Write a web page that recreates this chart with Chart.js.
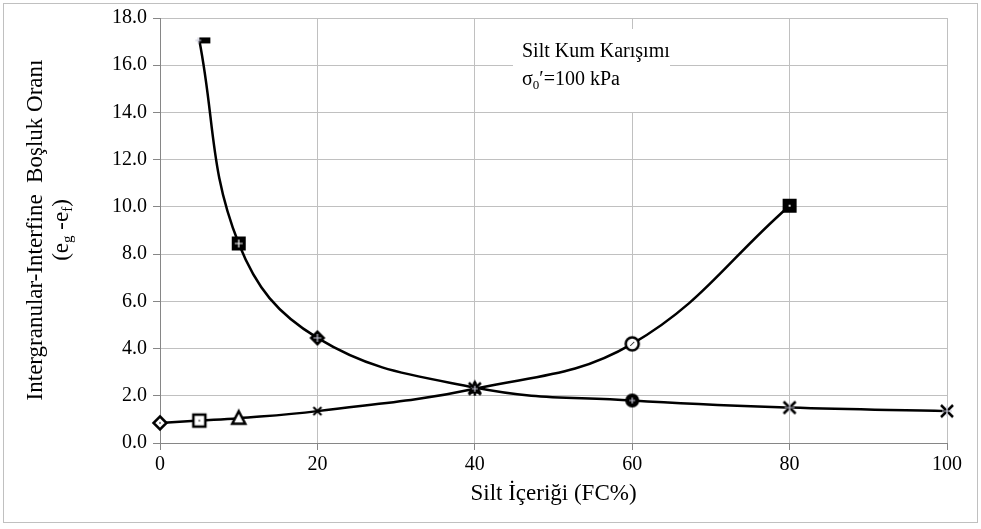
<!DOCTYPE html>
<html>
<head>
<meta charset="utf-8">
<script src="https://cdn.jsdelivr.net/npm/chart.js@4/dist/chart.umd.min.js"></script>
<style>
html,body{margin:0;padding:0;background:#fff;}
#wrap{width:981px;height:529px;position:relative;}
</style>
</head>
<body>
<div id="wrap"><canvas id="c" width="981" height="529"></canvas></div>
<script>
// ---- data ----
const fcDecreasing = [5, 10, 20, 40, 60, 80, 100];
const ratioDecreasing = [17.05, 8.45, 4.45, 2.35, 1.80, 1.50, 1.35];
const fcIncreasing = [0, 5, 10, 20, 40, 60, 80];
const ratioIncreasing = [0.85, 0.95, 1.05, 1.35, 2.30, 4.20, 10.05];
const xTicks = [0, 20, 40, 60, 80, 100];
const yTicks = [0, 2, 4, 6, 8, 10, 12, 14, 16, 18];
const xTitle = 'Silt İçeriği (FC%)';
const yTitleLine1 = 'Intergranular-Interfine  Boşluk Oranı';
const boxLine1 = 'Silt Kum Karışımı';

const FONT = '"Liberation Serif", "Times New Roman", serif';

// ---- marker factory ----
function mk(draw, w, h) {
  const c = document.createElement('canvas');
  c.width = w || 20; c.height = h || 20;
  const g = c.getContext('2d');
  g.lineWidth = 2; g.strokeStyle = '#000'; g.fillStyle = '#000';
  draw(g, c.width / 2, c.height / 2);
  return c;
}
function plus(g, x, y, s, col) {
  g.save(); g.strokeStyle = col || '#c8c8d8'; g.lineWidth = 1.2;
  g.beginPath(); g.moveTo(x - s, y); g.lineTo(x + s, y); g.moveTo(x, y - s); g.lineTo(x, y + s); g.stroke(); g.restore();
}
const m = {
  dashRect: mk((g, x, y) => { g.fillRect(x, y - 3, 11, 6); plus(g, x - 1, y, 3); }, 26, 12),
  sqFillPlus: mk((g, x, y) => { g.fillRect(x - 7, y - 7, 14, 14); plus(g, x, y, 4, '#fff'); }),
  diaFill: mk((g, x, y) => { g.beginPath(); g.moveTo(x, y - 8); g.lineTo(x + 8, y); g.lineTo(x, y + 8); g.lineTo(x - 8, y); g.closePath(); g.fill(); plus(g, x, y, 4); }),
  triFill: mk((g, x, y) => { g.beginPath(); g.moveTo(x, y - 8); g.lineTo(x + 7, y + 6); g.lineTo(x - 7, y + 6); g.closePath(); g.fill(); plus(g, x, y, 4); }),
  cirFill: mk((g, x, y) => { g.beginPath(); g.arc(x, y, 7, 0, Math.PI * 2); g.fill(); plus(g, x, y, 3); }),
  xBig: mk((g, x, y) => { g.lineWidth = 2.5; g.beginPath(); g.moveTo(x - 6, y - 6); g.lineTo(x + 6, y + 6); g.moveTo(x + 6, y - 6); g.lineTo(x - 6, y + 6); g.stroke(); plus(g, x, y, 5); }),
  diaOpen: mk((g, x, y) => { g.lineWidth = 2.5; g.fillStyle = '#fff'; g.beginPath(); g.moveTo(x, y - 6.5); g.lineTo(x + 6.5, y); g.lineTo(x, y + 6.5); g.lineTo(x - 6.5, y); g.closePath(); g.fill(); g.stroke(); g.fillStyle = '#888'; g.fillRect(x - 1, y - 1, 2, 2); }),
  sqOpen: mk((g, x, y) => { g.lineWidth = 2.5; g.fillStyle = '#fff'; g.fillRect(x - 6, y - 6, 12, 12); g.strokeRect(x - 6, y - 6, 12, 12); g.fillStyle = '#888'; g.fillRect(x - 1, y - 1, 2, 2); }),
  triOpen: mk((g, x, y) => { g.lineWidth = 2.5; g.fillStyle = '#fff'; g.beginPath(); g.moveTo(x, y - 7); g.lineTo(x + 6.5, y + 5.5); g.lineTo(x - 6.5, y + 5.5); g.closePath(); g.fill(); g.stroke(); }),
  xSmall: mk((g, x, y) => { g.lineWidth = 2; g.beginPath(); g.moveTo(x - 4, y - 4); g.lineTo(x + 4, y + 4); g.moveTo(x + 4, y - 4); g.lineTo(x - 4, y + 4); g.stroke(); }),
  star: mk((g, x, y) => { g.lineWidth = 2.5; g.beginPath(); g.moveTo(x - 6, y - 6); g.lineTo(x + 6, y + 6); g.moveTo(x + 6, y - 6); g.lineTo(x - 6, y + 6); g.moveTo(x, y - 7); g.lineTo(x, y + 7); g.stroke(); plus(g, x, y, 3); }),
  cirOpen: mk((g, x, y) => { g.lineWidth = 2.5; g.fillStyle = '#fff'; g.beginPath(); g.arc(x, y, 6.5, 0, Math.PI * 2); g.fill(); g.stroke(); g.beginPath(); g.lineWidth = 1; g.moveTo(x - 2, y + 2); g.lineTo(x + 2, y - 2); g.stroke(); }),
  sqFill: mk((g, x, y) => { g.fillRect(x - 7, y - 7, 14, 14); g.fillStyle = '#ddd'; g.fillRect(x - 1, y - 1, 2, 2); })
};
const stylesDecreasing = [m.dashRect, m.sqFillPlus, m.diaFill, m.triFill, m.cirFill, m.xBig, m.xBig];
const stylesIncreasing = [m.diaOpen, m.sqOpen, m.triOpen, m.xSmall, m.star, m.cirOpen, m.sqFill];

// ---- custom text plugin ----
const annot = {
  id: 'annot',
  beforeDraw(chart) {
    const g = chart.ctx;
    g.save();
    g.fillStyle = '#fff'; g.fillRect(0, 0, chart.width, chart.height);
    g.strokeStyle = '#c0c0c0'; g.lineWidth = 1;
    g.strokeRect(3.5, 3.5, 974, 519);
    g.restore();
  },
  beforeDatasetsDraw(chart) {
    const g = chart.ctx;
    g.save();
    // text box (white, covers gridlines)
    g.fillStyle = '#fff';
    g.fillRect(513, 29, 157, 83);
    g.fillStyle = '#000';
    g.font = '20px ' + FONT;
    g.textBaseline = 'alphabetic';
    g.fillText(boxLine1, 522, 57);
    let x = 522, y = 85;
    g.fillText('σ', x, y); x += g.measureText('σ').width;
    g.font = '13px ' + FONT; g.fillText('0', x, y + 4); x += g.measureText('0').width;
    g.font = '20px ' + FONT; g.fillText('′=100 kPa', x, y);
    // y-axis title, two lines
    g.save();
    g.translate(36, 230);
    g.rotate(-Math.PI / 2);
    g.textAlign = 'center'; g.textBaseline = 'middle';
    g.font = '23px ' + FONT;
    g.fillText(yTitleLine1, 0, 0);
    g.restore();
    g.save();
    g.translate(62, 230);
    g.rotate(-Math.PI / 2);
    g.textBaseline = 'middle';
    const parts = [['(e', 23, 0], ['g', 15, 6], [' -e', 23, 0], ['f', 15, 6], [')', 23, 0]];
    let tw = 0;
    parts.forEach(p => { g.font = p[1] + 'px ' + FONT; tw += g.measureText(p[0]).width; });
    let px = -tw / 2;
    parts.forEach(p => { g.font = p[1] + 'px ' + FONT; g.fillText(p[0], px, p[2]); px += g.measureText(p[0]).width; });
    g.restore();
    g.restore();
  }
};

const toPts = (xs, ys) => xs.map((x, i) => ({ x: x, y: ys[i] }));

new Chart(document.getElementById('c'), {
  type: 'line',
  data: {
    datasets: [
      {
        data: toPts(fcIncreasing, ratioIncreasing),
        borderColor: '#000', borderWidth: 2.5, tension: 0.4,
        pointStyle: stylesIncreasing, clip: false
      },
      {
        data: toPts(fcDecreasing, ratioDecreasing),
        borderColor: '#000', borderWidth: 2.5, tension: 0.4,
        pointStyle: stylesDecreasing, clip: false
      }
    ]
  },
  options: {
    responsive: false,
    animation: false,
    devicePixelRatio: 1,
    layout: { padding: { left: 0, right: 34, top: 14, bottom: 0 } },
    plugins: { legend: { display: false }, tooltip: { enabled: false } },
    scales: {
      x: {
        type: 'linear', min: 0, max: 100,
        afterBuildTicks: s => { s.ticks = xTicks.map(v => ({ value: v })); },
        afterFit: s => { s.height = 86; },
        grid: { color: '#c0c0c0', lineWidth: 1, tickLength: 7, tickColor: '#868686' },
        border: { color: '#868686', width: 1 },
        ticks: { color: '#000', font: { family: FONT, size: 20 }, padding: 3 },
        title: { display: true, text: xTitle, color: '#000', font: { family: FONT, size: 23 }, padding: { top: 0, bottom: 21 } }
      },
      y: {
        type: 'linear', min: 0, max: 18,
        afterBuildTicks: s => { s.ticks = yTicks.map(v => ({ value: v })); },
        afterFit: s => { s.width = 160; },
        grid: { color: '#c0c0c0', lineWidth: 1, tickLength: 7, tickColor: '#868686' },
        border: { color: '#868686', width: 1 },
        ticks: { color: '#000', font: { family: FONT, size: 20 }, padding: 6, callback: v => Number(v).toFixed(1) }
      }
    }
  },
  plugins: [annot]
});
</script>
</body>
</html>
